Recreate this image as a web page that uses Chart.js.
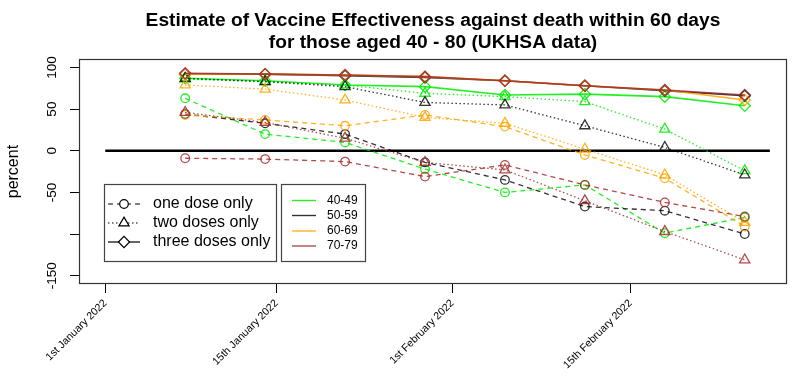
<!DOCTYPE html>
<html>
<head>
<meta charset="utf-8">
<script src="https://cdn.jsdelivr.net/npm/chart.js@4/dist/chart.umd.min.js"></script>
<style>
  html, body { margin: 0; padding: 0; background: #fff; }
  #wrap { width: 809px; height: 382px; position: relative; }
</style>
</head>
<body>
<div id="wrap"><canvas id="c" width="809" height="382"></canvas></div>
<script>
// ---- data (x = days since 1 January 2022) ----
const weekDays = [7, 14, 21, 28, 35, 42, 49, 56];
const ageGroups = ['40-49', '50-59', '60-69', '70-79'];
const doseLabels = ['one dose only', 'two doses only', 'three doses only'];

const oneDose4049 = [63, 20, 10, -22, -50, -41, -99, -80];
const oneDose5059 = [44, 33, 20, -14, -35, -67, -72, -100];
const oneDose6069 = [43, 37, 30, 43, 29, -5, -33, -91];
const oneDose7079 = [-9, -10, -13, -31, -17, -41, -62, -79];

const twoDose4049 = [86, 83, 79, 69, 65, 59, 26, -24];
const twoDose5059 = [87, 83, 77, 58, 55, 30, 4, -29];
const twoDose6069 = [79, 74, 61, 40, 33, 2, -29, -86];
const twoDose7079 = [46, 34, 15, -14, -23, -60, -97, -131];

const threeDose4049 = [87, 84, 79, 77, 67, 68, 65, 54];
const threeDose5059 = [92, 92, 90, 88, 84, 78, 72, 66];
const threeDose6069 = [92, 92, 91, 89, 84, 78, 73, 61];
const threeDose7079 = [93, 92, 91, 89, 84, 78, 73, 67];

const xTickDays = [0, 15, 30.4, 46];
const xTickLabels = ['1st January 2022', '15th January 2022', '1st February 2022', '15th February 2022'];
const yTickValues = [-150, -100, -50, 0, 50, 100];
const yTickLabels = ['-150', '', '-50', '0', '50', '100'];
const zeroLineX = [0, 58.2];
const zeroLineY = [0, 0];

// ---- styling ----
const ageColors = ['rgba(0,235,0,0.85)', 'rgba(0,0,0,0.8)', 'rgba(255,165,0,0.85)', 'rgba(165,42,42,0.85)'];
const doseDash = [[5, 4], [1.5, 2.5], []];
const doseStyle = ['circle', 'triangle', 'rectRot'];
const doseRadius = [4.3, 5.9, 5.6];

const series = [
  [oneDose4049, twoDose4049, threeDose4049],
  [oneDose5059, twoDose5059, threeDose5059],
  [oneDose6069, twoDose6069, threeDose6069],
  [oneDose7079, twoDose7079, threeDose7079]
];

const FONT = "'Liberation Sans', Arial, Helvetica, sans-serif";
Chart.defaults.font.family = FONT;
Chart.defaults.color = '#000';

const datasets = [];
// brown first so it is painted on top
for (let a = ageGroups.length - 1; a >= 0; a--) {
  for (let d = 2; d >= 0; d--) {
    datasets.push({
      label: ageGroups[a] + ' ' + doseLabels[d],
      data: weekDays.map((x, i) => ({ x: x, y: series[a][d][i] })),
      borderColor: ageColors[a],
      borderWidth: d === 2 ? 1.6 : 1.3,
      borderDash: doseDash[d],
      pointStyle: doseStyle[d],
      pointRadius: doseRadius[d],
      pointBorderWidth: 1.3,
      pointBorderColor: ageColors[a],
      pointBackgroundColor: 'rgba(0,0,0,0)',
      fill: false,
      tension: 0
    });
  }
}
datasets.push({
  label: 'zero',
  data: zeroLineX.map((x, i) => ({ x: x, y: zeroLineY[i] })),
  borderColor: '#000',
  borderWidth: 2.5,
  pointRadius: 0,
  fill: false
});

const boxPlugin = {
  id: 'box',
  beforeDatasetsDraw(chart) {
    const { ctx, chartArea: ca } = chart;
    ctx.save();
    ctx.strokeStyle = '#333';
    ctx.lineWidth = 1.2;
    ctx.strokeRect(Math.round(ca.left) + 0.5, Math.round(ca.top) + 0.5, Math.round(ca.right - ca.left) - 1, Math.round(ca.bottom - ca.top) - 1);
    ctx.restore();
  }
};

function drawMarker(ctx, style, x, y, r) {
  Chart.helpers.drawPoint(ctx, { pointStyle: style, radius: r, borderWidth: 1.3, rotation: 0 }, x, y);
}

const legendPlugin = {
  id: 'twoLegends',
  afterDraw(chart) {
    const ctx = chart.ctx;
    ctx.save();
    // legend 1: dose types
    ctx.fillStyle = '#fff';
    ctx.fillRect(104, 184, 172, 77);
    ctx.strokeStyle = '#444';
    ctx.lineWidth = 1.2;
    ctx.strokeRect(104.5, 184.5, 172, 77);
    const rows1 = [204, 223, 242];
    for (let d = 0; d < 3; d++) {
      const y = rows1[d];
      ctx.strokeStyle = '#000';
      ctx.lineWidth = 1.2;
      ctx.setLineDash(doseDash[d]);
      ctx.beginPath();
      ctx.moveTo(108, y); ctx.lineTo(140, y);
      ctx.stroke();
      ctx.setLineDash([]);
      ctx.fillStyle = '#fff';
      ctx.strokeStyle = '#000';
      drawMarker(ctx, doseStyle[d], 124, y, doseRadius[d]);
      ctx.fillStyle = '#000';
      ctx.font = '16px ' + FONT;
      ctx.textAlign = 'left';
      ctx.textBaseline = 'middle';
      ctx.fillText(doseLabels[d], 153, y);
    }
    // legend 2: age groups
    ctx.fillStyle = '#fff';
    ctx.fillRect(281, 184, 84, 77);
    ctx.strokeStyle = '#444';
    ctx.lineWidth = 1.2;
    ctx.strokeRect(281.5, 184.5, 84, 77);
    const rows2 = [200.5, 215.5, 231, 246];
    for (let a = 0; a < 4; a++) {
      const y = rows2[a];
      ctx.strokeStyle = ageColors[a];
      ctx.lineWidth = 1.4;
      ctx.beginPath();
      ctx.moveTo(292, y); ctx.lineTo(316, y);
      ctx.stroke();
      ctx.fillStyle = '#000';
      ctx.font = '12px ' + FONT;
      ctx.textAlign = 'left';
      ctx.textBaseline = 'middle';
      ctx.fillText(ageGroups[a], 327, y);
    }
    ctx.restore();
  }
};

new Chart(document.getElementById('c'), {
  type: 'line',
  data: { datasets: datasets },
  plugins: [boxPlugin, legendPlugin],
  options: {
    responsive: false,
    animation: false,
    events: [],
    layout: { padding: { left: 0, right: 22, top: 0, bottom: 0 } },
    plugins: {
      legend: { display: false },
      tooltip: { enabled: false },
      title: {
        display: true,
        fullSize: false,
        text: ['Estimate of Vaccine Effectiveness against death within 60 days', 'for those aged 40 - 80 (UKHSA data)'],
        font: { size: 19.2, weight: 'bold', lineHeight: 1.15 },
        color: '#000',
        padding: { top: 10, bottom: 5 }
      }
    },
    scales: {
      x: {
        type: 'linear',
        min: -2.3,
        max: 59.7,
        afterFit(s) { s.height = 98; },
        afterBuildTicks(s) { s.ticks = xTickDays.map(v => ({ value: v })); },
        border: { display: false },
        grid: { display: true, drawOnChartArea: false, drawTicks: true, tickLength: 9, color: '#000', lineWidth: 1 },
        ticks: {
          autoSkip: false,
          minRotation: 45,
          maxRotation: 45,
          padding: 4,
          font: { size: 10.6 },
          color: '#000',
          callback: (v, i) => xTickLabels[i]
        }
      },
      y: {
        type: 'linear',
        min: -160,
        max: 110,
        afterFit(s) { s.width = 79; },
        afterBuildTicks(s) { s.ticks = yTickValues.map(v => ({ value: v })); },
        border: { display: false },
        grid: { display: true, drawOnChartArea: false, drawTicks: true, tickLength: 9, color: '#000', lineWidth: 1 },
        title: { display: true, text: 'percent', font: { size: 16 }, color: '#000', padding: { top: 4, bottom: 0 } },
        ticks: {
          autoSkip: false,
          minRotation: 90,
          maxRotation: 90,
          crossAlign: 'center',
          padding: 4,
          font: { size: 13.6 },
          color: '#000',
          callback: (v, i) => yTickLabels[i]
        }
      }
    }
  }
});
</script>
</body>
</html>
